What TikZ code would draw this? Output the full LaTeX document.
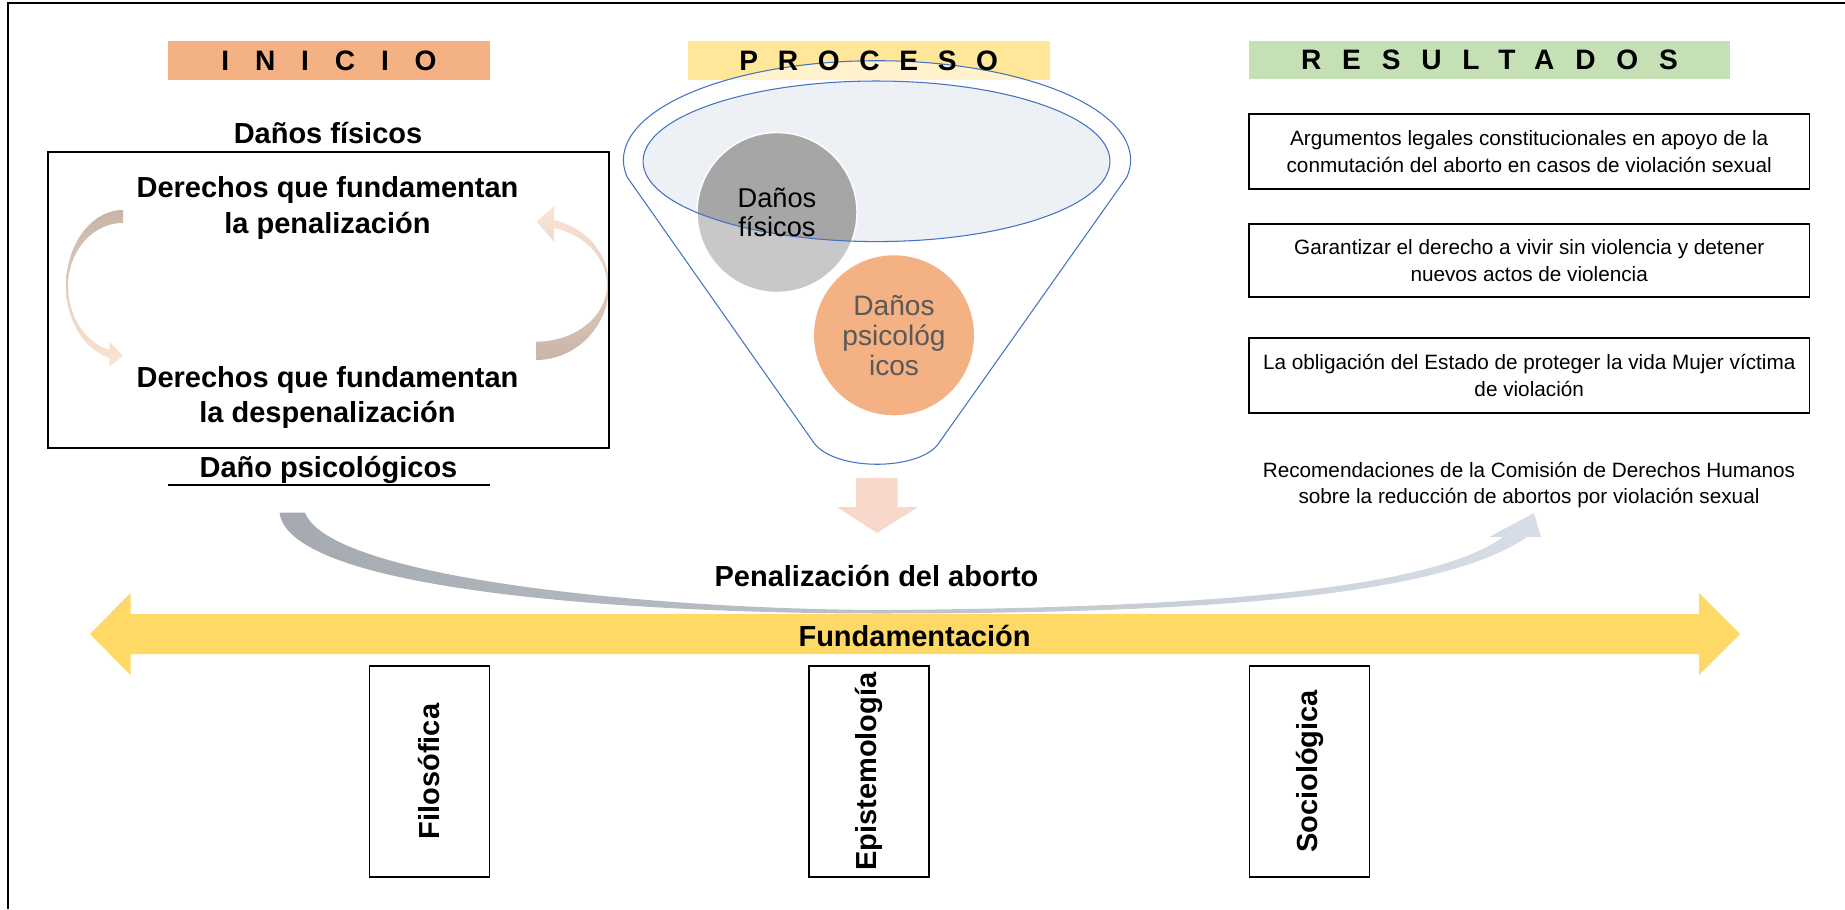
\documentclass[tikz,border=0pt]{standalone}
\usepackage{fontspec}
\setmainfont{Liberation Sans}
\usetikzlibrary{positioning}
\definecolor{inicio}{HTML}{F4B183}
\definecolor{proceso}{HTML}{FFE699}
\definecolor{result}{HTML}{C5E0B4}
\definecolor{funnel}{HTML}{4472C4}
\definecolor{ellfill}{HTML}{EDF0F4}
\definecolor{grydark}{HTML}{A6A6A6}
\definecolor{grylight}{HTML}{C8C8C8}
\definecolor{txtgray}{HTML}{595959}
\definecolor{downpink}{HTML}{F8D8CB}
\definecolor{cyctaupe}{HTML}{C8B5A8}
\definecolor{cycpeach}{HTML}{FBE5D6}
\definecolor{bigleft}{HTML}{A5A9B0}
\definecolor{bigright}{HTML}{D8DEE7}
\definecolor{band}{HTML}{FFD966}
\begin{document}
\begin{tikzpicture}[x=0.02cm,y=-0.02cm,
	head/.style={inner sep=0pt,minimum height=0.78cm,font=\fontsize{16}{18}\selectfont\bfseries\addfontfeature{LetterSpace=#1}},
	bigtxt/.style={inner sep=0pt,align=center,font=\fontsize{16.5}{20}\selectfont\bfseries},
	restxt/.style={inner sep=0pt,align=center,font=\fontsize{11.8}{15.2}\selectfont},
	resbox/.style={restxt,draw,line width=0.9pt,minimum width=11.22cm,minimum height=1.5cm},
	vbox/.style={bigtxt,draw,line width=0.9pt,rotate=90,minimum width=4.22cm,minimum height=2.4cm},
	bubble/.style={circle,inner sep=0pt,minimum size=3.2cm,align=center}]
	\useasboundingbox (0,0) rectangle (1845,909);
	\draw[line width=0.7pt] (8,909)--(8,3)--(1845,3);
	% column heads
	\node[head=92,fill=inicio,minimum width=6.44cm] (inicio) at (329,60.5) {INICIO};
	\node[head=70,fill=proceso,minimum width=7.25cm] (proceso) at (868.75,60.4) {};
	\node[head=74,fill=result,minimum width=9.62cm] (resultados) at (1489.5,60) {RESULTADOS};
	% inicio: cycle arrows and box
	\shade[top color=cyctaupe,bottom color=cycpeach]
	plot[domain=-90:-180,samples=40] ({123+57*cos(\x)},{286+76*sin(\x)})
	-- plot[domain=-180:-256,samples=40] ({123+57*cos(\x)},{286+74*sin(\x)})
	-- (109.5,367) -- (123,355.7) -- (109.5,342)
	-- plot[domain=-256:-180,samples=40] ({123+55*cos(\x)},{286+66*sin(\x)})
	-- plot[domain=-180:-90,samples=40] ({123+55*cos(\x)},{286+63*sin(\x)}) -- cycle;
	\shade[top color=cycpeach,bottom color=cyctaupe]
	plot[domain=90:0,samples=40] ({536+73*cos(\x)},{285+75*sin(\x)})
	-- plot[domain=0:-75.7,samples=40] ({536+73*cos(\x)},{285+67*sin(\x)})
	-- (554,206) -- (536.7,221.7) -- (554,241.7)
	-- plot[domain=-75.3:0,samples=40] ({536+71*cos(\x)},{285+59*sin(\x)})
	-- plot[domain=0:90,samples=40] ({536+71*cos(\x)},{285+56.7*sin(\x)}) -- cycle;
	\node[draw,line width=1.1pt,minimum width=11.22cm,minimum height=5.92cm] (derbox) at (328.5,300) {};
	\node[bigtxt,anchor=base] (fisico) at (328,143.3) {Daños físicos};
	\node[bigtxt] (penal) at (327.5,208) {Derechos que fundamentan\\la penalización};
	\node[bigtxt] (despenal) at (327.5,397.5) {Derechos que fundamentan\\la despenalización};
	\node[bigtxt,anchor=base] (psicol) at (328.5,477) {Daño psicológicos};
	\draw[line width=1.1pt] (168,485)--(490,485);
	% proceso: funnel
	\filldraw[fill=white,fill opacity=0.5,draw=funnel,line width=0.6pt]
	plot[domain=170:370,samples=80] ({877+253.6*cos(\x)},{160+99.3*sin(\x)})
	-- (937.5,445) .. controls (916,471) and (835,471) .. (814,443) -- cycle;
	\node[head=70] (procesotxt) at (proceso) {PROCESO};
	\fill[ellfill] (876.5,161.3) ellipse [x radius=4.67cm,y radius=1.606cm];
	\fill[grylight] (777,212.5) circle (1.6cm);
	\begin{scope}
		\clip (876.5,161.3) ellipse [x radius=4.67cm,y radius=1.606cm];
		\fill[grydark] (777,212.5) circle (1.6cm);
	\end{scope}
	\draw[white,line width=0.8pt] (777,212.5) circle (1.6cm);
	\draw[funnel,line width=0.6pt] (876.5,161.3) ellipse [x radius=4.67cm,y radius=1.606cm];
	\node[bubble,font=\fontsize{15.5}{16.2}\selectfont] (fisicos) at (777,212.5) {Daños\\físicos};
	\node[bubble,fill=inicio,text=txtgray,font=\fontsize{16}{17.1}\selectfont] (psicos) at (894,335.3) {Daños\\psicológ\\icos};
	\fill[downpink] (856,478) -- (897.5,478) -- (897.5,507) -- (918,507) -- (877,533) -- (837,507) -- (856,507) -- cycle;
	\node[bigtxt,anchor=base] (penaliz) at (876.5,586) {Penalización del aborto};
	% resultados
	\node[resbox] (res1) at (1529.2,151.5) {Argumentos legales constitucionales en apoyo de la\\conmutación del aborto en casos de violación sexual};
	\node[resbox,minimum height=1.46cm] (res2) at (1529.2,260.5) {Garantizar el derecho a vivir sin violencia y detener\\nuevos actos de violencia};
	\node[resbox] (res3) at (1529.2,375.5) {La obligación del Estado de proteger la vida Mujer víctima\\de violación};
	\node[restxt] (res4) at (1529,485) {Recomendaciones de la Comisión de Derechos Humanos\\sobre la reducción de abortos por violación sexual};
	% fundamentacion
	\fill[band] (90,634) -- (130.5,593) -- (130.5,614) -- (1699,614) -- (1699,593) -- (1740,634)
	-- (1699,675) -- (1699,654) -- (130.5,654) -- (130.5,675) -- cycle;
	\shade[left color=bigleft,right color=bigright] (305,512.7) .. controls (330,578) and (650,609) .. (880,610)
	.. controls (1200,608) and (1430,590) .. (1503,537) -- (1489,537) -- (1534,513) -- (1541,537) -- (1527,537)
	.. controls (1440,597) and (1200,613.5) .. (880,613.5) .. controls (640,613.5) and (290,592) .. (279.5,512.7) -- cycle;
	\node[bigtxt,anchor=base] (fund) at (914.5,646) {Fundamentación};
	\node[vbox] (filo) at (429.5,771.5) {Filosófica};
	\node[vbox] (episte) at (869,771.5) {Epistemología};
	\node[vbox] (socio) at (1309.5,771.5) {Sociológica};
\end{tikzpicture}
\end{document}
